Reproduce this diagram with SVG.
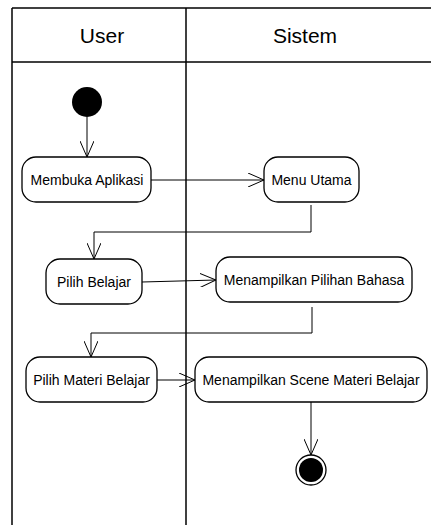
<svg xmlns="http://www.w3.org/2000/svg" width="431" height="525" viewBox="0 0 431 525">
<style>
.lane{stroke:#000;stroke-width:1.5;fill:none}
.act{fill:#fff;stroke:#000;stroke-width:1.3}
.lbl{font-family:"Liberation Sans",Arial,sans-serif;font-size:14px;fill:#000;text-anchor:middle;dominant-baseline:central}
.hdr{font-family:"Liberation Sans",Arial,sans-serif;font-size:21px;fill:#000;text-anchor:middle;dominant-baseline:central}
.edge{stroke:#000;stroke-width:1;fill:none}
</style>
<defs>
<marker id="open" viewBox="0 0 16 14" refX="16" refY="7" markerWidth="16" markerHeight="14" markerUnits="userSpaceOnUse" orient="auto">
<path d="M0,0 L16,7 L0,14" fill="none" stroke="#000" stroke-width="1"/>
</marker>
</defs>
<rect width="431" height="525" fill="#fff"/>
<g id="swimlanes">
<line class="lane" x1="12" y1="8" x2="431" y2="8"/>
<line class="lane" x1="12" y1="62" x2="431" y2="62"/>
<line class="lane" x1="12" y1="8" x2="12" y2="525"/>
<line class="lane" x1="186" y1="8" x2="186" y2="525"/>
<text class="hdr" x="102" y="35.5">User</text>
<text class="hdr" x="305" y="35.5">Sistem</text>
</g>
<g id="connectors">
<path class="edge" d="M87,117 V157" marker-end="url(#open)"/>
<path class="edge" d="M151,180 H264" marker-end="url(#open)"/>
<path class="edge" d="M311,205 V232 H94 V259" marker-end="url(#open)"/>
<path class="edge" d="M142,282 L216,280" marker-end="url(#open)"/>
<path class="edge" d="M312,307 V333 H91 V357" marker-end="url(#open)"/>
<path class="edge" d="M157,380 H195" marker-end="url(#open)"/>
<path class="edge" d="M311,402 V455" marker-end="url(#open)"/>
</g>
<g id="start">
<circle cx="87" cy="102" r="15" fill="#000"/>
</g>
<g id="membuka">
<rect class="act" x="22" y="157" width="129" height="45" rx="14"/>
<text class="lbl" x="87" y="180">Membuka Aplikasi</text>
</g>
<g id="menu">
<rect class="act" x="264" y="157" width="95" height="45" rx="14"/>
<text class="lbl" x="311.5" y="180">Menu Utama</text>
</g>
<g id="pilihBelajar">
<rect class="act" x="46" y="259" width="96" height="45" rx="14"/>
<text class="lbl" x="94" y="282">Pilih Belajar</text>
</g>
<g id="pilihanBahasa">
<rect class="act" x="216" y="257" width="196" height="45" rx="14"/>
<text class="lbl" x="314" y="280">Menampilkan Pilihan Bahasa</text>
</g>
<g id="pilihMateri">
<rect class="act" x="26" y="357" width="131" height="45" rx="14"/>
<text class="lbl" x="91.5" y="380">Pilih Materi Belajar</text>
</g>
<g id="sceneMateri">
<rect class="act" x="195" y="357" width="232" height="45" rx="14"/>
<text class="lbl" x="311" y="380">Menampilkan Scene Materi Belajar</text>
</g>
<g id="end">
<circle cx="311" cy="470" r="15" fill="#fff" stroke="#000" stroke-width="1.3"/>
<circle cx="311" cy="470" r="12" fill="#000"/>
</g>
</svg>
